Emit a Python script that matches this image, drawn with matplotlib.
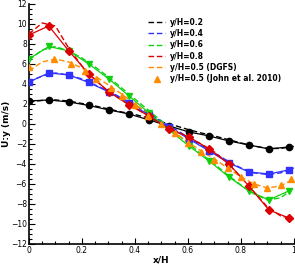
import numpy as np
import matplotlib
matplotlib.use('Agg')
import matplotlib.pyplot as plt
from matplotlib.ticker import MultipleLocator
from matplotlib.lines import Line2D

# marker data (solid lines)
x_pts = [0.0, 0.075, 0.151, 0.226, 0.302, 0.378, 0.453, 0.529, 0.604, 0.68, 0.755, 0.83, 0.906, 0.981]
u_02 = [2.3, 2.4, 2.2, 1.85, 1.4, 1.0, 0.4, -0.2, -0.8, -1.2, -1.7, -2.1, -2.5, -2.3]
u_04 = [4.2, 5.1, 4.9, 4.15, 3.2, 2.1, 0.9, -0.3, -1.5, -2.7, -3.9, -4.8, -5.0, -4.6]
u_06 = [6.5, 7.75, 7.3, 6.0, 4.5, 2.8, 1.1, -0.6, -2.2, -3.7, -5.3, -6.7, -7.6, -6.7]
u_08 = [8.9, 9.8, 7.3, 5.0, 3.2, 1.9, 0.8, -0.5, -1.3, -2.5, -4.0, -6.2, -8.6, -9.4]

# DGFS (dashed lines)
x_dgfs = [0.0, 0.05, 0.1, 0.15, 0.2, 0.25, 0.3, 0.35, 0.4, 0.45, 0.5,
          0.55, 0.6, 0.65, 0.7, 0.75, 0.8, 0.85, 0.9, 0.95, 1.0]
d_02 = [2.2, 2.35, 2.4, 2.3, 2.05, 1.8, 1.5, 1.2, 0.95, 0.6, 0.2,
        -0.15, -0.55, -0.9, -1.2, -1.55, -1.9, -2.2, -2.45, -2.45, -2.25]
d_04 = [4.2, 4.8, 5.1, 4.9, 4.5, 3.9, 3.3, 2.6, 1.9, 1.1, 0.3,
        -0.5, -1.3, -2.1, -2.9, -3.7, -4.4, -4.9, -5.05, -4.9, -4.4]
d_06 = [6.4, 7.4, 7.75, 7.3, 6.6, 5.7, 4.7, 3.6, 2.5, 1.4, 0.3,
        -0.8, -1.9, -3.0, -4.0, -5.1, -6.1, -7.0, -7.6, -7.4, -6.4]
d_08 = [9.0, 10.1, 9.8, 7.6, 5.8, 4.4, 3.25, 2.4, 1.6, 0.85, 0.0,
        -0.7, -1.3, -2.0, -2.8, -3.9, -5.3, -6.8, -8.3, -9.2, -9.5]
d_05 = [5.3, 6.2, 6.5, 6.2, 5.6, 4.8, 3.9, 3.0, 2.0, 1.0, 0.0,
        -0.9, -1.8, -2.7, -3.5, -4.4, -5.3, -6.0, -6.4, -6.2, -5.5]

# John et al. 2010
x_john = [0.0, 0.096, 0.16, 0.21, 0.255, 0.31, 0.35, 0.4, 0.45, 0.5,
          0.55, 0.6, 0.65, 0.7, 0.75, 0.8, 0.85, 0.9, 0.95, 0.99]
u_john = [5.7, 6.5, 6.0, 5.3, 4.5, 3.6, 2.8, 1.9, 0.8, 0.0,
          -0.9, -1.9, -2.8, -3.6, -4.4, -5.3, -6.0, -6.4, -6.1, -5.5]

labels = ['y/H=0.2', 'y/H=0.4', 'y/H=0.6', 'y/H=0.8', 'y/H=0.5 (DGFS)', 'y/H=0.5 (John et al. 2010)']
colors = ['black', '#3030ff', '#10d010', '#dd0000', '#ff8c00']

fig = plt.figure(figsize=(2.95, 2.66), dpi=100)
ax = fig.add_axes([0.098, 0.083, 0.898, 0.902])

pts = [u_02, u_04, u_06, u_08]
dgfs = [d_02, d_04, d_06, d_08, d_05]
marks = ['o', 's', 'v', 'D']
msize = [4.5, 3.8, 4.5, 3.8]

for i in range(4):
    ax.plot(x_pts, pts[i], '-', color=colors[i], lw=0.9, marker=marks[i], ms=msize[i], zorder=3)
for i in range(5):
    ax.plot(x_dgfs, dgfs[i], '--', color=colors[i], lw=1.0, dashes=(4, 2), zorder=2)
ax.plot(x_john, u_john, '^', color=colors[4], ms=4.2, zorder=4)

ax.set_xlim(0, 1)
ax.set_ylim(-12, 12)
ax.xaxis.set_major_locator(MultipleLocator(0.2))
ax.xaxis.set_minor_locator(MultipleLocator(0.05))
ax.yaxis.set_major_locator(MultipleLocator(2))
ax.yaxis.set_minor_locator(MultipleLocator(0.5))
ax.set_xticks([0, 0.2, 0.4, 0.6, 0.8, 1.0])
ax.set_xticklabels(['0', '0.2', '0.4', '0.6', '0.8', '1'])
ax.tick_params(which='both', direction='in', labelsize=5.5, width=0.8, pad=1.5)
ax.tick_params(which='major', length=4)
ax.tick_params(which='minor', length=2)
for s in ['top', 'right']:
    ax.spines[s].set_visible(False)
for s in ['left', 'bottom']:
    ax.spines[s].set_linewidth(1.2)

ax.set_xlabel('x/H', fontsize=6.5, fontweight='bold', labelpad=0)
ax.set_ylabel('U:y (m/s)', fontsize=6.5, fontweight='bold', labelpad=0)

handles = [Line2D([], [], color=colors[i], ls='--', lw=1.0, dashes=(4, 2)) for i in range(5)]
handles.append(Line2D([], [], color=colors[4], marker='^', ls='none', ms=4.5))
ax.legend(handles, labels, loc='upper left', bbox_to_anchor=(0.43, 0.965), frameon=False,
          prop={'size': 5.5, 'weight': 'bold'}, handlelength=2.2, labelspacing=0.3,
          handletextpad=0.6, borderpad=0.2)

fig.savefig('out.png', dpi=100)
